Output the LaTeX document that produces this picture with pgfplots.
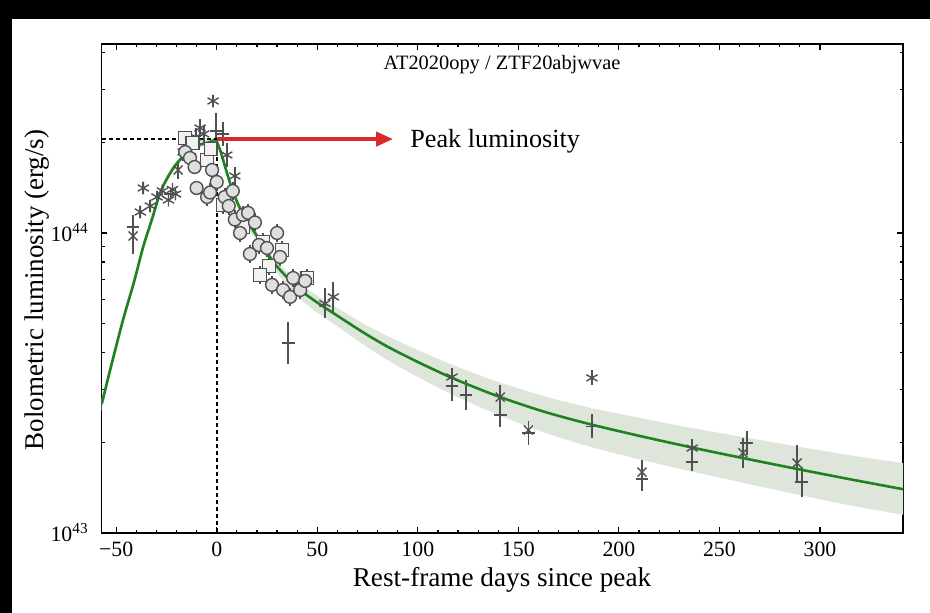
\documentclass[border=0pt]{standalone}
\usepackage{fontspec}
\setmainfont{Liberation Serif}
\usepackage{pgfplots}
\pgfplotsset{compat=1.18}
\usetikzlibrary{arrows.meta}
\definecolor{fitgreen}{RGB}{30,130,30}
\definecolor{bandfill}{RGB}{222,230,220}
\definecolor{ptgray}{RGB}{80,80,80}
\definecolor{arrowred}{RGB}{220,40,40}

% y values are log10 of the bolometric luminosity (erg/s)
\pgfplotsset{
  pts/.style={only marks, ptgray, line width=0.7pt, mark size=3.2pt,
    error bars/.cd, y dir=both, y explicit, error mark=none,
    error bar style={line width=0.9pt, ptgray}},
}

\begin{document}
\begin{tikzpicture}
\fill[white] (0,0) rectangle (465pt,306.5pt);
\fill[black] (0,0) rectangle (6pt,306.5pt);
\fill[black] (0,297pt) rectangle (465pt,306.5pt);
\begin{axis}[
  at={(50.85pt,40pt)}, anchor=south west,
  width=400.65pt, height=244.5pt, scale only axis,
  xmin=-57.2, xmax=341.3, ymin=43, ymax=44.63,
  xtick={-50,0,...,300},
  xticklabels={−50,0,50,100,150,200,250,300},
  minor x tick num=4,
  ytick={43,44},
  yticklabels={10\textsuperscript{43},10\textsuperscript{44}},
  minor ytick={43.30103,43.47712,43.60206,43.69897,43.77815,43.84510,43.90309,43.95424,44.30103,44.47712,44.60206},
  tick align=inside,
  major tick length=2.8pt, minor tick length=1.6pt,
  tick style={line width=0.6pt, black},
  axis line style={line width=0.6pt},
  ticklabel style={font=\fontsize{10.9}{13}\selectfont},
  yticklabel style={xshift=-3pt},
  xticklabel style={yshift=-1pt},
]
% uncertainty band of the fit: upper edge, then lower edge backwards
\addplot[fill=bandfill, draw=none, smooth] coordinates {
(-60,43.37) (-57.2,43.45) (-52,43.588) (-46.6,43.726) (-41,43.855) (-36.6,43.967) (-32,44.063)
(-28.2,44.145) (-24,44.201) (-19.7,44.243) (-13.3,44.287) (-8,44.305) (-3.3,44.313)
(-1,44.32) (0,44.315) (2,44.28) (4,44.236) (6,44.191) (8,44.152) (11,44.103)
(15,44.054) (20,44.005) (28,43.922) (35,43.871) (41.5,43.83) (50,43.791) (58,43.758)
(73,43.698) (85,43.656) (100,43.61) (117,43.561) (135,43.515) (150,43.482) (166,43.45)
(186,43.417) (210,43.384) (237,43.349) (260,43.322) (289,43.288) (315,43.259) (341.3,43.233)
(350,43.225) (350,43.05)
(341.3,43.061) (315,43.092) (289,43.128) (260,43.17) (237,43.204) (210,43.246) (186,43.287)
(166,43.328) (150,43.367) (135,43.408) (117,43.462) (100,43.52) (85,43.576) (73,43.628)
(58,43.698) (50,43.735) (41.5,43.78) (35,43.827) (28,43.882) (20,43.97) (15,44.024)
(11,44.077) (8,44.128) (6,44.169) (4,44.214) (2,44.26) (0,44.295) (-1,44.30)
(-3.3,44.293) (-8,44.285) (-13.3,44.267) (-19.7,44.223) (-24,44.179) (-28.2,44.121)
(-32,44.037) (-36.6,43.939) (-41,43.825) (-46.6,43.694) (-52,43.552) (-57.2,43.41) (-60,43.33)
} -- cycle;

% asterisks
\addplot[mark=asterisk, pts] coordinates {
(-36.5,44.15) +- (0,0.02) (-38,44.07) +- (0,0.02) (-33,44.09) +- (0,0.02)
(-29.7,44.12) +- (0,0.02) (-27,44.14) +- (0,0.02) (-24,44.11) +- (0,0.02)
(-22,44.145) +- (0,0.02) (-20.5,44.13) +- (0,0.02) (-16.7,44.27) +- (0,0.03)
(-10.5,44.32) +- (0,0.03) (-8.3,44.35) +- (0,0.03) (-6.5,44.33) +- (0,0.03)
(-1.8,44.44) +- (0,0.02) (5,44.26) +- (0,0.04) (9,44.19) +- (0,0.03)
(53.8,43.765) +- (0,0.05) (58,43.787) +- (0,0.05) (117,43.52) +- (0,0.03)
(186.6,43.517) +- (0,0.025) (236.4,43.283) +- (0,0.03)
};
% crosses
\addplot[mark=x, pts] coordinates {
(-41.6,43.99) +- (0,0.06) (-19.2,44.21) +- (0,0.03) (-12.5,44.25) +- (0,0.03)
(141,43.453) +- (0,0.04) (155,43.343) +- (0,0.03) (211.5,43.203) +- (0,0.04)
(261.7,43.267) +- (0,0.05) (288.6,43.233) +- (0,0.06)
};
% pluses
\addplot[mark=+, pts] coordinates {
(-41.6,44.02) +- (0,0.04) (-23,44.13) +- (0,0.02) (-0.3,44.34) +- (0,0.06)
(3,44.33) +- (0,0.04) (35.5,43.633) +- (0,0.07) (117,43.49) +- (0,0.05)
(124,43.46) +- (0,0.05) (141,43.393) +- (0,0.04) (155,43.333) +- (0,0.04)
(186.6,43.355) +- (0,0.04) (211.5,43.18) +- (0,0.04) (236.4,43.237) +- (0,0.03)
(263.6,43.30) +- (0,0.04) (291,43.17) +- (0,0.05)
};
% squares
\addplot[mark=square*, mark options={fill=gray!10, draw=ptgray}, pts] coordinates {
(-15.7,44.317) +- (0,0.02) (-12,44.30) +- (0,0.02) (-4.8,44.243) +- (0,0.03)
(-3,44.28) +- (0,0.03) (3,44.093) +- (0,0.03) (13,44.02) +- (0,0.03)
(23,43.97) +- (0,0.03) (26,43.89) +- (0,0.03) (32.5,43.943) +- (0,0.03)
(21.5,43.86) +- (0,0.03) (45,43.85) +- (0,0.03)
};
% filled circles
\addplot[mark=*, mark size=2.9pt, mark options={fill=gray!25, draw=ptgray}, pts] coordinates {
(-15.7,44.27) +- (0,0.02) (-13.3,44.25) +- (0,0.02) (-11,44.22) +- (0,0.02)
(-10,44.15) +- (0,0.02) (-4.8,44.12) +- (0,0.03) (-3.3,44.135) +- (0,0.03)
(-2.3,44.21) +- (0,0.03) (0,44.17) +- (0,0.03) (4,44.12) +- (0,0.03)
(6,44.09) +- (0,0.03) (8,44.14) +- (0,0.03) (9,44.045) +- (0,0.03)
(11.6,44.0) +- (0,0.03) (13,44.06) +- (0,0.03) (15.6,44.067) +- (0,0.03)
(19,44.035) +- (0,0.03) (16.5,43.93) +- (0,0.03) (21,43.96) +- (0,0.03)
(25,43.95) +- (0,0.03) (30,44.0) +- (0,0.03) (31.5,43.92) +- (0,0.03)
(27.5,43.827) +- (0,0.03) (33,43.81) +- (0,0.03) (38,43.85) +- (0,0.03)
(36.5,43.787) +- (0,0.03) (41.5,43.81) +- (0,0.03) (44,43.84) +- (0,0.03)
};

% best-fit light curve
\addplot[fitgreen, line width=1.3pt, smooth] coordinates {
(-57.2,43.43) (-52,43.57) (-46.6,43.71) (-41,43.84) (-36.6,43.953) (-32,44.05)
(-28.2,44.133) (-24,44.19) (-19.7,44.233) (-13.3,44.277) (-8,44.295) (-3.3,44.303)
(-1,44.31) (0,44.305) (2,44.27) (4,44.225) (6,44.18) (8,44.14) (11,44.09) (15,44.04)
(20,43.99) (28,43.905) (35,43.852) (41.5,43.81) (50,43.768) (58,43.733) (73,43.668)
(85,43.621) (100,43.57) (117,43.517) (135,43.468) (150,43.432) (166,43.398) (186,43.362)
(210,43.324) (237,43.284) (260,43.252) (289,43.213) (315,43.179) (341.3,43.146)
};

\draw[black, line width=0.8pt, dash pattern=on 2pt off 1.5pt]
  (axis cs:-57.2,44.313) -- (axis cs:0,44.313) -- (axis cs:0,43);
\draw[arrowred, line width=2pt, -{Triangle[length=8.5pt,width=7pt]}]
  (axis cs:0,44.313) -- (axis cs:87.7,44.313);
\end{axis}
\node[font=\fontsize{10.2}{12}\selectfont] at (251pt,274pt) {AT2020opy / ZTF20abjwvae};
\node[anchor=base west, inner sep=0, font=\fontsize{13.1}{15}\selectfont] at (205pt,232.5pt) {Peak luminosity};
\node[anchor=base, inner sep=0, font=\fontsize{13.6}{16}\selectfont] at (251pt,13pt) {Rest-frame days since peak};
\node[rotate=90, anchor=base, inner sep=0, font=\fontsize{13.5}{16}\selectfont] at (21.5pt,161.5pt) {Bolometric luminosity (erg/s)};
\pgfresetboundingbox
\path[use as bounding box] (0,0) rectangle (465pt,306.5pt);
\end{tikzpicture}
\end{document}
